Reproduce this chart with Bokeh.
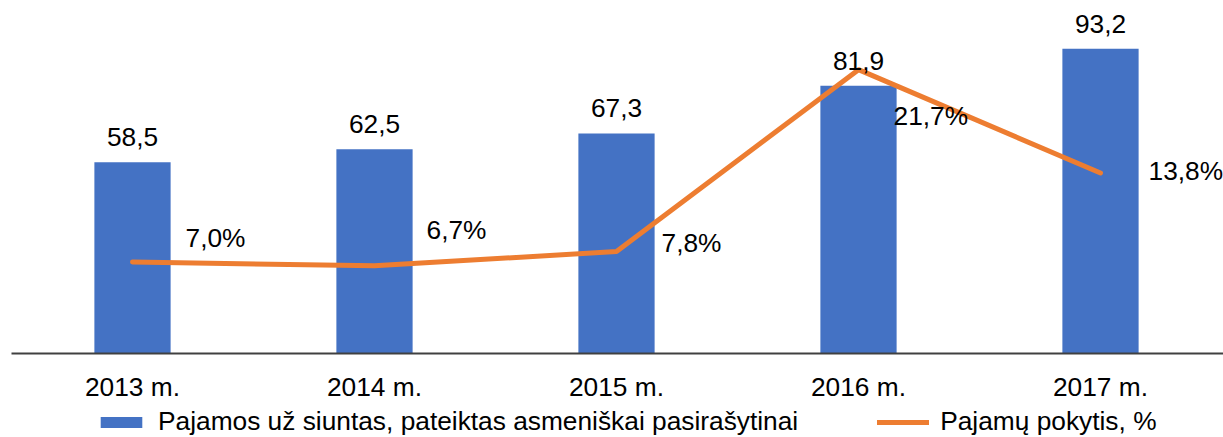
from bokeh.plotting import figure
from bokeh.models import (ColumnDataSource, Range1d, LabelSet, Legend,
                          LegendItem, FixedTicker)
from bokeh.core.properties import value
from bokeh.layouts import column
from bokeh.embed import file_html
from bokeh.resources import INLINE

years = ["2013 m.", "2014 m.", "2015 m.", "2016 m.", "2017 m."]
income = [58.5, 62.5, 67.3, 81.9, 93.2]
change_pct = [7.0, 6.7, 7.8, 21.7, 13.8]
income_labels = ["58,5", "62,5", "67,3", "81,9", "93,2"]
change_labels = ["7,0%", "6,7%", "7,8%", "21,7%", "13,8%"]

bar_name = "Pajamos už siuntas, pateiktas asmeniškai pasirašytinai"
line_name = "Pajamų pokytis, %"

# layout offsets for the percentage labels (pixels)
pct_dx = [53, 52, 45, 35, 48]
pct_dy = [15, 27, -1, -55, -7]

FONT = "Liberation Sans"
FS = "26.3px"
BLUE = "#4472C4"
ORANGE = "#ED7D31"

idx = list(range(len(years)))
src = ColumnDataSource(dict(x=idx, income=income, pct=change_pct,
                            ilab=income_labels, plab=change_labels,
                            dx=pct_dx, dy=pct_dy))

W, H = 1223, 404
FRAME_BOTTOM = 353          # page pixel of the category axis
CAT_W = 242.0               # pixels per category
LEFT = 11.0                 # page pixel of the left edge of the first category
x_start = -0.5 - LEFT / CAT_W
x_end = x_start + W / CAT_W
y_top = 100 * FRAME_BOTTOM / 327.0
pct_top = 25 * FRAME_BOTTOM / 327.0

p = figure(width=W, height=H, x_range=Range1d(x_start, x_end),
           y_range=Range1d(0, y_top), output_backend="svg", toolbar_location=None,
           min_border_left=0, min_border_right=0, min_border_top=0,
           min_border_bottom=H - FRAME_BOTTOM)
p.extra_y_ranges = {"pct": Range1d(0, pct_top)}
p.outline_line_color = None
p.grid.visible = False
p.yaxis.visible = False

bars = p.vbar(x="x", top="income", width=0.315, source=src, color=BLUE, line_color=None)
line = p.line(x="x", y="pct", source=src, y_range_name="pct", line_color=ORANGE,
              line_width=5, line_cap="round", line_join="round")

xa = p.xaxis[0]
xa.ticker = FixedTicker(ticks=idx)
xa.major_label_overrides = {i: y for i, y in zip(idx, years)}
xa.axis_line_color = "#404040"
xa.axis_line_width = 2
xa.major_tick_line_color = None
xa.minor_tick_line_color = None
xa.major_label_text_font = FONT
xa.major_label_text_font_size = FS
xa.major_label_text_color = "#000000"
xa.major_label_standoff = 12
xa.bounds = (-0.5, 4.5 + 2 / CAT_W)

p.add_layout(LabelSet(x="x", y="income", text="ilab", source=src, y_offset=16,
                      text_align="center", text_baseline="alphabetic",
                      text_font=value(FONT), text_font_size=value(FS),
                      text_color="#000000"))
p.add_layout(LabelSet(x="x", y="pct", text="plab", source=src, y_range_name="pct",
                      x_offset="dx", y_offset="dy", text_align="left",
                      text_baseline="alphabetic", text_font=value(FONT),
                      text_font_size=value(FS), text_color="#000000"))

# legend strip below the chart
leg = figure(width=W, height=437 - H, x_range=Range1d(0, 1), y_range=Range1d(0, 1),
             output_backend="svg", toolbar_location=None,
             min_border_left=0, min_border_right=0,
             min_border_top=0, min_border_bottom=0)
leg.axis.visible = False
leg.grid.visible = False
leg.outline_line_color = None
dummy = ColumnDataSource(dict(x=[-10, -9], top=[-10, -10], y=[-10, -10]))
lb = leg.vbar(x="x", top="top", width=0.1, source=dummy, color=BLUE, line_color=None)
ll = leg.line(x="x", y="y", source=dummy, line_color=ORANGE, line_width=5,
              line_cap="round")

legend = Legend(items=[LegendItem(label=bar_name, renderers=[lb]),
                       LegendItem(label=line_name, renderers=[ll])],
                orientation="horizontal", location=(95, 0),
                label_text_font=FONT, label_text_font_size=FS,
                label_text_color="#000000", glyph_width=52, glyph_height=14,
                label_standoff=11, spacing=79, padding=0, margin=0,
                border_line_color=None, background_fill_alpha=0)
leg.add_layout(legend, "center")

open("out.html", "w").write(file_html(column(p, leg), INLINE))
